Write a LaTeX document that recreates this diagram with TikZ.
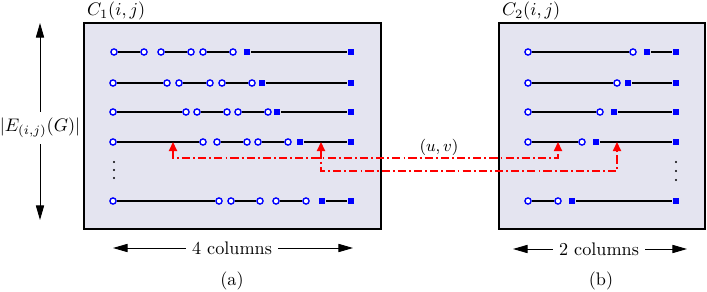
\documentclass[tikz,border=0pt]{standalone}
\usepackage{amsmath}
\usepackage{amssymb}
\usetikzlibrary{arrows.meta}

\definecolor{cellfill}{RGB}{228,228,240}

\tikzset{
  cellbox/.style={draw=black, line width=1.1pt, fill=cellfill},
  opnode/.style={circle, draw=blue, fill=white, line width=0.75pt, inner sep=0pt, minimum size=3.4pt},
  clnode/.style={rectangle, fill=blue, inner sep=0pt, minimum size=3.8pt},
  dotnode/.style={circle, fill=black, inner sep=0pt, minimum size=1.3pt},
  seg/.style={black, line width=1.1pt},
  uvlink/.style={red, line width=0.8pt, dash pattern=on 4.5pt off 1.7pt on 1pt off 1.7pt,
    {Triangle[width=4.5pt,length=5pt]}-{Triangle[width=4.5pt,length=5pt]}},
  sizearrow/.style={-{Triangle[width=4.5pt,length=8pt]}, line width=0.5pt}
}

\begin{document}
\begin{tikzpicture}[x=0.55pt, y=-0.55pt]
\useasboundingbox (0,0) rectangle (707,292);

    % Draw the two cells
    \draw[cellbox] (84,23) coordinate (boxa) rectangle (381,229);
    \draw[cellbox] (499,23) coordinate (boxb) rectangle (705,229);
    \node[anchor=south west, inner sep=1.5pt] (titlea) at (boxa) {$C_1(i,j)$};
    \node[anchor=south west, inner sep=1.5pt] (titleb) at (boxb) {$C_2(i,j)$};

    % Rows of the first cell: open segments, then the closed one
    \foreach \r/\y/\segs/\qa in {1/52/{114/144,161/191,203/233}/247,
                                  2/83/{113/167,179/210,222/252}/262,
                                  3/112/{113/186,197/227,238/268}/277,
                                  4/142/{113/203,217/247,258/288}/300,
                                  5/201/{113/219,231/260,276/306}/322}{
      \foreach \a/\b [count=\k] in \segs {
        \node[opnode] (a\r-\k-s) at (\a,\y) {};
        \node[opnode] (a\r-\k-t) at (\b,\y) {};
        \draw[seg] (a\r-\k-s) -- (a\r-\k-t);
      }
      \node[clnode] (a\r-qs) at (\qa,\y) {};
      \node[clnode] (a\r-qt) at (351,\y) {};
      \draw[seg] (a\r-qs) -- (a\r-qt);
    }

    % Rows of the second cell
    \foreach \r/\y/\cb/\qa in {1/52/633/647, 2/83/617/628, 3/112/600/614,
                               4/142/582/596, 5/201/558/572}{
      \node[opnode] (b\r-s) at (528,\y) {};
      \node[opnode] (b\r-t) at (\cb,\y) {};
      \draw[seg] (b\r-s) -- (b\r-t);
      \node[clnode] (b\r-qs) at (\qa,\y) {};
      \node[clnode] (b\r-qt) at (676,\y) {};
      \draw[seg] (b\r-qs) -- (b\r-qt);
    }

    % Vertical dots
    \foreach \y [count=\k] in {162,170,178}{
      \node[dotnode] (dota-\k) at (114,\y) {};
    }
    \foreach \y [count=\k] in {162,171,180}{
      \node[dotnode] (dotb-\k) at (676,\y) {};
    }

    % Edge (u,v) between the two cells
    \coordinate (hita) at (173,142);
    \coordinate (hitb) at (558,142);
    \coordinate (hitc) at (321,142);
    \coordinate (hitd) at (617,142);
    \draw[uvlink] (hita) -- ++(0,16) -| (hitb);
    \draw[uvlink] (hitc) -- ++(0,29) -| (hitd);
    \node (uv) at (439,147) {\small$(u,v)$};

    % Size of the cells
    \node (rows) at (40,128) {$|E_{(i,j)}(G)|$};
    \coordinate (rows-t) at (40,23);
    \coordinate (rows-b) at (40,220);
    \draw[sizearrow] (rows) -- (rows-t);
    \draw[sizearrow] (rows) -- (rows-b);

    \node (cola) at (232,248) {4 columns};
    \coordinate (cola-l) at (113,248);
    \coordinate (cola-r) at (353,248);
    \draw[sizearrow] (cola) -- (cola-l);
    \draw[sizearrow] (cola) -- (cola-r);

    \node (colb) at (599,249) {2 columns};
    \coordinate (colb-l) at (513,249);
    \coordinate (colb-r) at (687,249);
    \draw[sizearrow] (colb) -- (colb-l);
    \draw[sizearrow] (colb) -- (colb-r);

    % Captions
    \node (capa) at (232,281) {(a)};
    \node (capb) at (601,281) {(b)};

\end{tikzpicture}
\end{document}
